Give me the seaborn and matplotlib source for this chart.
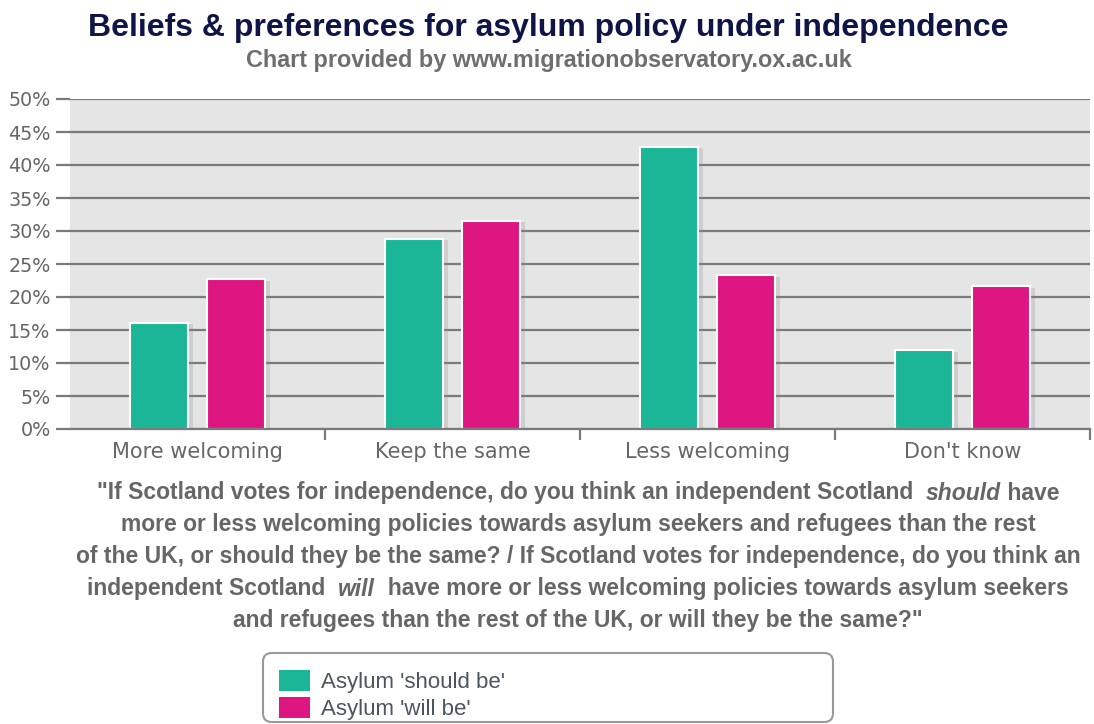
import pandas as pd
import seaborn as sns
import matplotlib.pyplot as plt
import matplotlib.patheffects as pe
from matplotlib.patches import FancyBboxPatch
from matplotlib.ticker import FuncFormatter, FixedLocator

# === data ===
categories = ["More welcoming", "Keep the same", "Less welcoming", "Don't know"]
series = ["Asylum 'should be'", "Asylum 'will be'"]
should_be = [16.1, 28.8, 42.8, 11.9]
will_be = [22.7, 31.5, 23.3, 21.6]
colors = ["#1bb697", "#de1681"]

df = pd.DataFrame({
    "category": categories * 2,
    "series": [series[0]] * 4 + [series[1]] * 4,
    "value": should_be + will_be,
})

sns.set_theme(style="white")
plt.rcParams["font.family"] = ["DejaVu Sans"]

W, H = 1094, 724
fig = plt.figure(figsize=(W / 100, H / 100), dpi=100)
ax = fig.add_axes([70 / W, 1 - 429 / H, 1020 / W, 330 / H])
ax.set_facecolor("#e5e5e5")

sns.barplot(data=df, x="category", y="value", hue="series", palette=colors,
            width=0.604, gap=0.234, edgecolor="white", linewidth=1.5,
            saturation=1, ax=ax, legend=False, zorder=3)
for p in ax.patches:
    p.set_path_effects([pe.SimplePatchShadow(offset=(3, -1), shadow_rgbFace="#8a8a8a", alpha=0.25),
                        pe.Normal()])

ax.set_xlim(-0.5, 3.5)
ax.set_ylim(0, 50)
ax.set_yticks(range(0, 51, 5))
ax.yaxis.set_major_formatter(FuncFormatter(lambda v, _: f"{v:.0f}%"))
ax.grid(axis="y", color="#7a7a7a", linewidth=1.6, zorder=1)
ax.set_axisbelow(True)
ax.tick_params(axis="y", length=10, width=1.6, color="#7a7a7a", labelsize=13.8,
               labelcolor="#666666", pad=4, left=True)
ax.tick_params(axis="x", which="major", length=0, labelsize=15,
               labelcolor="#666666", pad=9)
ax.xaxis.set_minor_locator(FixedLocator([0.5, 1.5, 2.5, 3.5]))
ax.tick_params(axis="x", which="minor", length=8, width=1.6, color="#7a7a7a", bottom=True)
ax.set_xlabel("")
ax.set_ylabel("")
for s in ["top", "right", "left"]:
    ax.spines[s].set_visible(False)
ax.spines["bottom"].set_color("#7a7a7a")
ax.spines["bottom"].set_linewidth(1.6)
ax.spines["bottom"].set_zorder(4)

# === titles ===
fig.text(548 / W, 1 - 36 / H, "Beliefs & preferences for asylum policy under independence",
         ha="center", va="baseline", fontsize=23, fontweight="bold",
         color="#0f1547", family="Liberation Sans")
fig.text(549 / W, 1 - 67 / H, "Chart provided by www.migrationobservatory.ox.ac.uk",
         ha="center", va="baseline", fontsize=16.8, fontweight="bold",
         color="#6e6e6e", family="Liberation Sans")

# === caption with italic words ===
cap_lines = [
    ['"If Scotland votes for independence, do you think an independent Scotland  ', ("should", True), " have"],
    ["more or less welcoming policies towards asylum seekers and refugees than the rest"],
    ["of the UK, or should they be the same? / If Scotland votes for independence, do you think an"],
    ["independent Scotland  ", ("will", True), "  have more or less welcoming policies towards asylum seekers"],
    ['and refugees than the rest of the UK, or will they be the same?"'],
]
cap_y = [493, 525, 557, 589, 621]
cap_center = 578
cap_kw = dict(fontsize=16.5, fontweight="bold", color="#666666", family="Liberation Sans", va="center")

fig.canvas.draw()
renderer = fig.canvas.get_renderer()
for parts, ypx in zip(cap_lines, cap_y):
    texts = []
    for part in parts:
        if isinstance(part, tuple):
            t = fig.text(0, 1 - ypx / H, part[0], style="italic", ha="left", **cap_kw)
        else:
            t = fig.text(0, 1 - ypx / H, part, ha="left", **cap_kw)
        texts.append(t)
    widths = [t.get_window_extent(renderer).width for t in texts]
    x = cap_center - sum(widths) / 2
    for t, w in zip(texts, widths):
        t.set_x(x / W)
        x += w

# === legend (box drawn separately) ===
box = FancyBboxPatch((263 / W, 1 - 722 / H), 570 / W, 69 / H,
                     boxstyle="round,pad=0,rounding_size=0.008",
                     transform=fig.transFigure, facecolor="white",
                     edgecolor="#999999", linewidth=1.5, mutation_aspect=W / H)
fig.patches.append(box)
handles = [plt.Rectangle((0, 0), 1, 1, facecolor=c, edgecolor="none") for c in colors]
leg = fig.legend(handles, series, loc="upper left",
                 bbox_to_anchor=(279 / W, 1 - 670 / H), borderaxespad=0,
                 frameon=False, prop={"family": "Liberation Sans", "size": 16},
                 handlelength=1.4, handleheight=1.1, handletextpad=0.5,
                 labelspacing=0.17, borderpad=0)
for txt in leg.get_texts():
    txt.set_color("#4a5560")

fig.savefig("out.png", dpi=100)
